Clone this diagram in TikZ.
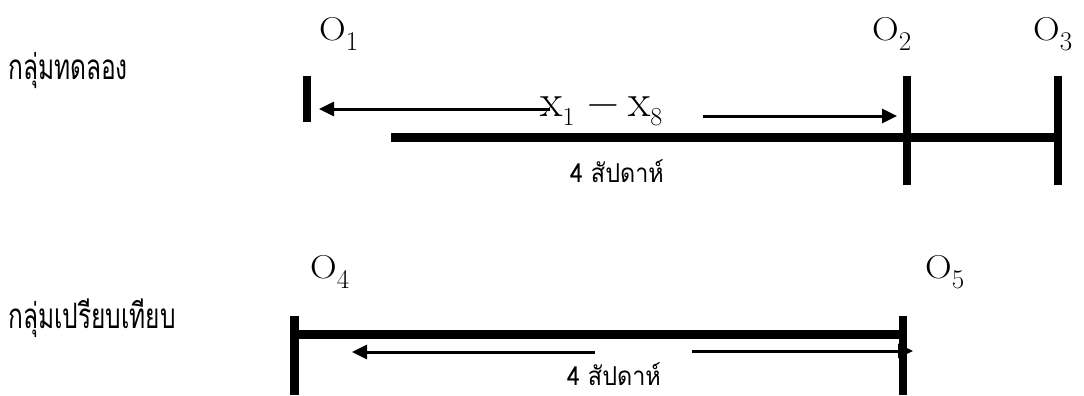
\documentclass[tikz,border=0pt]{standalone}
\usepackage{fontspec}
\newfontfamily\thaifont[Script=Thai]{Loma}
\usetikzlibrary{arrows.meta}
\newcommand\obsO[1]{\fontsize{33}{33}\selectfont\scalebox{1.12}[1]{O}\raisebox{-10pt}{\fontsize{27}{27}\selectfont #1}}
\begin{document}
\begin{tikzpicture}[x=1pt,y=-1pt,
  tickline/.style={line width=8.5pt},
  barline/.style={line width=9pt},
  arrline/.style={line width=3pt,-{Triangle[length=15pt,width=14pt]}},
  lbl/.style={anchor=base west,inner sep=0pt},
  grouplbl/.style={anchor=base west,inner sep=0pt,font=\thaifont\fontsize{35}{35}\selectfont},
  weeklbl/.style={anchor=base,inner sep=0pt,font=\thaifont\fontsize{26}{26}\selectfont}]
\useasboundingbox[fill=white] (0,0) rectangle (1084,396);
% group labels
\node[grouplbl] (g1) at (8,80) {\scalebox{0.7}[1]{กลุ่มทดลอง}};
\node[grouplbl] (g2) at (8,328) {\scalebox{0.7}[1]{กลุ่มเปรียบเทียบ}};
% observation labels
\node[lbl] (o1) at (319,41) {\obsO{1}};
\node[lbl] (o2) at (872,41) {\obsO{2}};
\node[lbl] (o3) at (1033,41) {\obsO{3}};
\node[lbl] (o4) at (310,278) {\obsO{4}};
\node[lbl] (o5) at (925,278) {\obsO{5}};
% coordinates, experimental group
\coordinate (t1a) at (307,76);  \coordinate (t1b) at (307,122);
\coordinate (t2a) at (907,76);  \coordinate (t2b) at (907,185);
\coordinate (t3a) at (1058,76); \coordinate (t3b) at (1058,185);
\coordinate (b1s) at (391,137.5); \coordinate (b1e) at (1058,137.5);
\coordinate (a1s) at (550,109); \coordinate (a1e) at (319,109);
\coordinate (a2s) at (703,116); \coordinate (a2e) at (897,116);
% coordinates, comparison group
\coordinate (t4a) at (294.5,316); \coordinate (t4b) at (294.5,395);
\coordinate (t5a) at (903,316);   \coordinate (t5b) at (903,395);
\coordinate (b2s) at (294.5,334.5); \coordinate (b2e) at (903,334.5);
\coordinate (a3s) at (595,352); \coordinate (a3e) at (352,352);
\coordinate (a4s) at (692,351); \coordinate (a4e) at (913,351);
% bars and arrows
\draw[barline] (b1s) -- (b1e);
\draw[barline] (b2s) -- (b2e);
\draw[arrline] (a1s) -- (a1e);
\draw[arrline] (a2s) -- (a2e);
\draw[arrline] (a3s) -- (a3e);
\draw[arrline] (a4s) -- (a4e);
% ticks
\draw[tickline] (t1a) -- (t1b);
\draw[tickline] (t2a) -- (t2b);
\draw[tickline] (t3a) -- (t3b);
\draw[tickline] (t4a) -- (t4b);
\draw[tickline] (t5a) -- (t5b);
% expression and durations
\node[lbl] (expr) at (540,116) {{\fontsize{46}{46}\selectfont x}\raisebox{-9pt}{\fontsize{26}{26}\selectfont 1}\hspace{13pt}{\fontsize{44}{44}\selectfont −}\hspace{9pt}{\fontsize{46}{46}\selectfont x}\raisebox{-9pt}{\fontsize{26}{26}\selectfont 8}};
\node[weeklbl] (w1) at (617,182) {\scalebox{0.9}[1]{4 สัปดาห์}};
\node[weeklbl] (w2) at (614,385) {\scalebox{0.9}[1]{4 สัปดาห์}};
\end{tikzpicture}
\end{document}
